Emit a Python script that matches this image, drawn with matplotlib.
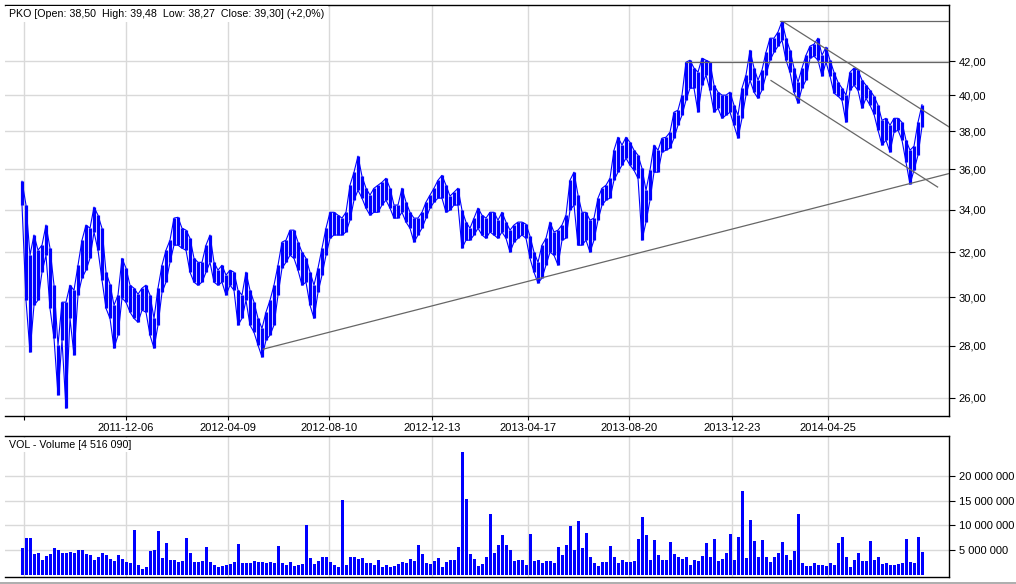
import matplotlib
matplotlib.use('Agg')
import matplotlib.pyplot as plt
from matplotlib.ticker import FixedLocator, NullLocator, FuncFormatter
from matplotlib.lines import Line2D
import numpy as np

# ---- data (sampled roughly every 3-4 sessions) ----
high = [
    35.40, 34.22, 31.86, 32.79, 32.09, 32.32, 33.26, 32.18, 30.53, 28.03,
    29.80, 29.80, 30.53, 30.31, 31.41, 32.55, 33.26, 33.11, 34.12, 33.73,
    33.11, 31.10, 30.57, 29.67, 30.10, 31.72, 31.28, 30.53, 30.40, 30.14,
    30.40, 30.53, 30.10, 29.12, 30.40, 31.41, 32.09, 32.55, 33.59, 33.63,
    33.11, 33.02, 32.64, 31.72, 31.54, 31.54, 32.32, 32.79, 31.54, 31.19,
    31.41, 30.97, 31.19, 31.10, 30.31, 30.10, 31.10, 30.31, 29.80, 29.12,
    28.71, 29.38, 29.88, 30.53, 31.41, 32.46, 32.55, 33.02, 33.02, 32.46,
    32.00, 31.72, 31.10, 30.53, 31.28, 32.18, 33.11, 33.87, 33.87, 33.73,
    33.59, 33.87, 35.20, 35.86, 36.69, 35.65, 35.05, 34.71, 35.05, 35.20,
    35.35, 35.55, 35.05, 34.22, 34.22, 35.05, 34.36, 33.87, 33.59, 33.59,
    33.87, 34.36, 34.71, 35.05, 35.45, 35.70, 35.20, 34.66, 34.85, 35.05,
    33.97, 33.40, 33.11, 33.59, 34.07, 33.73, 33.59, 33.87, 33.87, 33.49,
    33.87, 33.40, 33.02, 33.26, 33.40, 33.40, 33.30, 32.74, 32.00, 31.54,
    32.32, 32.64, 33.40, 32.93, 33.02, 33.26, 33.73, 35.45, 35.86, 34.71,
    33.87, 33.87, 33.49, 33.59, 34.56, 35.05, 35.20, 35.55, 37.00, 37.69,
    37.27, 37.69, 37.42, 37.00, 36.74, 36.06, 34.95, 35.96, 37.27, 37.00,
    37.64, 37.69, 37.96, 39.06, 39.17, 40.02, 41.94, 42.06, 41.59, 41.35,
    42.18, 42.06, 41.94, 40.59, 40.19, 40.02, 40.02, 40.19, 39.45, 38.89,
    40.42, 41.18, 42.66, 41.59, 40.88, 41.47, 42.54, 43.40, 43.40, 43.78,
    44.46, 43.40, 42.66, 41.59, 40.76, 41.59, 42.36, 42.91, 43.03, 43.40,
    42.36, 42.85, 42.06, 41.35, 40.76, 40.42, 40.02, 41.35, 41.59, 41.47,
    40.88, 40.59, 40.30, 39.96, 39.45, 38.61, 38.72, 38.34, 38.72, 38.72,
    38.50, 37.53, 37.00, 37.21, 38.50, 39.48,
]
low = [
    34.22, 29.88, 27.75, 29.67, 29.88, 31.10, 31.86, 29.54, 28.31, 26.11,
    28.23, 25.62, 29.12, 27.64, 30.10, 30.84, 31.19, 31.72, 32.93, 32.09,
    30.75, 29.54, 29.12, 27.91, 28.43, 29.97, 29.80, 29.38, 29.12, 28.96,
    29.46, 29.38, 28.43, 27.91, 28.84, 30.22, 30.66, 31.54, 32.32, 32.32,
    32.18, 32.09, 31.10, 30.66, 30.53, 30.66, 31.10, 31.54, 30.66, 30.53,
    30.66, 30.10, 30.53, 30.31, 28.84, 29.12, 29.88, 28.84, 28.55, 28.03,
    27.56, 28.23, 28.43, 28.84, 30.10, 31.28, 31.54, 31.86, 31.72, 31.19,
    30.53, 30.66, 29.67, 29.12, 30.22, 30.97, 31.86, 32.64, 32.79, 32.79,
    32.79, 32.93, 33.49, 34.46, 34.95, 34.56, 34.07, 33.73, 33.87, 33.87,
    34.22, 34.46, 34.07, 33.59, 33.59, 33.87, 33.40, 33.11, 32.46, 32.79,
    33.11, 33.59, 34.07, 34.36, 34.56, 34.56, 33.87, 33.97, 34.22, 34.22,
    32.18, 32.55, 32.55, 32.79, 33.11, 32.79, 32.64, 32.93, 32.79, 32.64,
    32.93, 32.64, 32.00, 32.46, 32.64, 32.79, 32.64, 31.72, 31.10, 30.62,
    30.84, 31.41, 32.00, 31.86, 31.41, 32.55, 32.64, 33.97, 34.22, 32.32,
    32.32, 32.55, 32.00, 32.55, 33.49, 34.22, 34.46, 34.56, 35.45, 35.86,
    36.22, 36.58, 36.22, 35.96, 35.55, 32.55, 33.40, 34.46, 35.86, 35.86,
    36.90, 37.00, 37.11, 37.64, 38.34, 38.89, 39.73, 40.42, 40.42, 39.06,
    40.59, 41.18, 40.30, 39.06, 39.28, 38.72, 38.89, 39.06, 38.34, 37.64,
    38.72, 40.02, 40.88, 40.19, 39.84, 40.30, 41.18, 42.06, 42.54, 42.91,
    43.28, 42.06, 41.35, 40.19, 39.56, 40.42, 40.88, 42.18, 42.30, 42.06,
    41.12, 41.94, 41.12, 40.13, 39.96, 39.73, 38.50, 40.30, 40.59, 40.30,
    39.28, 39.84, 39.45, 38.95, 38.07, 37.27, 37.53, 36.90, 37.96, 38.07,
    37.53, 36.38, 35.25, 35.96, 36.74, 38.27,
]
volume_m = [
    5.5, 7.5, 7.5, 4.2, 4.5, 3.0, 3.8, 4.3, 5.5, 5.0,
    4.5, 4.5, 4.7, 4.4, 5.0, 5.0, 4.3, 4.0, 3.0, 3.6,
    4.5, 4.0, 3.2, 2.7, 4.0, 3.2, 2.6, 2.3, 9.1, 2.0,
    1.2, 1.5, 4.8, 5.0, 8.9, 3.4, 6.4, 3.0, 3.0, 2.5,
    2.8, 7.4, 4.5, 2.5, 2.6, 2.7, 5.6, 2.5, 2.0, 1.6,
    1.8, 2.0, 2.2, 2.5, 6.2, 2.3, 2.4, 2.3, 2.8, 2.5,
    2.6, 2.3, 2.6, 2.3, 5.9, 2.3, 2.0, 2.5, 1.8, 2.0,
    2.2, 10.1, 3.4, 2.2, 2.7, 3.5, 3.5, 2.5, 2.0, 1.6,
    15.2, 2.0, 3.5, 3.5, 3.2, 3.3, 2.3, 2.4, 2.0, 3.0,
    1.5, 1.9, 1.6, 1.7, 2.2, 2.6, 2.4, 3.2, 2.8, 6.0,
    4.3, 2.4, 2.2, 2.7, 3.3, 1.6, 2.6, 3.0, 3.0, 5.6,
    24.9, 15.4, 4.2, 3.1, 1.8, 2.1, 3.5, 12.3, 4.5, 6.0,
    8.1, 6.1, 5.0, 2.7, 3.0, 3.0, 2.0, 8.3, 2.8, 3.0,
    2.4, 2.8, 2.7, 2.3, 5.6, 4.0, 6.0, 9.9, 5.0, 10.9,
    5.5, 8.4, 3.5, 2.3, 1.8, 2.5, 2.5, 5.9, 3.5, 2.3,
    3.0, 2.5, 2.5, 2.8, 7.2, 11.7, 8.1, 3.0, 7.0, 4.0,
    3.0, 3.0, 6.7, 4.3, 3.6, 3.2, 3.5, 2.0, 3.0, 2.7,
    3.8, 6.5, 3.5, 7.3, 2.8, 3.2, 4.5, 8.3, 3.0, 7.6,
    17.0, 3.3, 11.1, 6.9, 3.5, 7.1, 3.5, 2.6, 3.6, 4.5,
    6.7, 4.0, 3.0, 4.8, 12.3, 2.3, 1.8, 1.8, 2.4, 2.0,
    2.0, 1.8, 2.3, 2.0, 6.4, 7.7, 3.7, 1.5, 3.0, 4.5,
    2.8, 2.8, 6.9, 3.0, 3.5, 2.2, 2.3, 2.0, 2.0, 2.2,
    2.4, 7.3, 2.5, 2.3, 7.6, 4.516090,
]

tick_index = [0.5, 26, 51.5, 76.75, 102.5, 126.5, 151.75, 177.5, 201.5]
tick_labels = ['', '2011-12-06', '2012-04-09', '2012-08-10', '2012-12-13',
               '2013-04-17', '2013-08-20', '2013-12-23', '2014-04-25']
price_ticks = [26, 28, 30, 32, 34, 36, 38, 40, 42]
volume_ticks = [5_000_000, 10_000_000, 15_000_000, 20_000_000]

# trend lines: (index start, index end), (price start, price end)
support_x, support_y = [60.25, 231.75], [27.87, 35.79]
chan_up_x, chan_up_y = [190.6, 231.75], [44.38, 38.25]
chan_lo_x, chan_lo_y = [187.25, 228.9], [40.86, 35.11]
level1_x, level1_y = [189.5, 231.75], [44.45, 44.45]
level2_x, level2_y = [166.0, 231.75], [41.98, 41.98]

title = "PKO [Open: 38,50  High: 39,48  Low: 38,27  Close: 39,30] (+2,0%)"
vol_title = "VOL - Volume [4 516 090]"

# ---- drawing ----
plt.rcParams['font.family'] = ['Liberation Sans', 'DejaVu Sans']
plt.rcParams['font.size'] = 8

W, H = 1016, 584
fig = plt.figure(figsize=(W / 100, H / 100), dpi=100)
fig.patch.set_facecolor('white')


def px_axes(l, t, r, b):
    return fig.add_axes([l / W, 1 - b / H, (r - l) / W, (b - t) / H])


ax = px_axes(5, 5, 949, 416)
axv = px_axes(5, 436, 949, 577)

BLUE = '#0000ff'
GRID = '#d9d9d9'
LINE = '#666666'
n = len(high)
x = np.arange(n)

# price bars: high-low range per sample, envelopes joined thinly
ax.vlines(x, low, high, color=BLUE, linewidth=2.3, zorder=3)
ax.plot(x, high, color=BLUE, linewidth=0.8, zorder=3)
ax.plot(x, low, color=BLUE, linewidth=0.8, zorder=3)
for xs, ys in [(support_x, support_y), (chan_up_x, chan_up_y),
               (chan_lo_x, chan_lo_y), (level1_x, level1_y),
               (level2_x, level2_y)]:
    ax.plot(xs, ys, color=LINE, linewidth=0.9, zorder=4)

ax.set_yscale('log')
ax.set_ylim(25.34, 45.5)
ax.set_xlim(-4.25, 231.75)
ax.yaxis.set_major_locator(FixedLocator(price_ticks))
ax.yaxis.set_minor_locator(NullLocator())
ax.yaxis.set_major_formatter(FuncFormatter(lambda v, p: f"{v:.2f}".replace('.', ',')))
ax.yaxis.tick_right()
ax.set_xticks(tick_index)
ax.set_xticklabels(tick_labels)
ax.tick_params(axis='y', direction='out', length=4, width=0.8, pad=3, labelsize=8)
ax.tick_params(axis='x', direction='out', length=3, width=0.8, pad=2, labelsize=8)
ax.grid(True, color=GRID, linewidth=1.0)
ax.set_axisbelow(True)

axv.bar(x, np.array(volume_m) * 1e6, width=0.75, color=BLUE, linewidth=0, zorder=3)
axv.set_xlim(-4.25, 231.75)
axv.set_ylim(-0.45e6, 28.1e6)
axv.yaxis.set_major_locator(FixedLocator(volume_ticks))
axv.yaxis.set_major_formatter(FuncFormatter(lambda v, p: f"{int(v):,}".replace(',', ' ')))
axv.yaxis.tick_right()
axv.set_xticks(tick_index)
axv.set_xticklabels([])
axv.tick_params(axis='y', direction='out', length=4, width=0.8, pad=3, labelsize=8)
axv.tick_params(axis='x', length=0)
axv.grid(True, color=GRID, linewidth=1.0)
axv.set_axisbelow(True)

for a in (ax, axv):
    a.spines['left'].set_visible(False)
    for s in ('top', 'right', 'bottom'):
        a.spines[s].set_linewidth(1.0)
        a.spines[s].set_color('black')

fig.text(9 / W, 1 - 14 / H, title, ha='left', va='center', fontsize=7.7,
         bbox=dict(facecolor='white', edgecolor='none', pad=2.5))
fig.text(9 / W, 1 - 445 / H, vol_title, ha='left', va='center', fontsize=7.7,
         bbox=dict(facecolor='white', edgecolor='none', pad=1.5))

fig.add_artist(Line2D([0, 1], [0.8 / H, 0.8 / H], color='#a0a0a0', linewidth=1.2))

fig.savefig('out.png', dpi=100)
